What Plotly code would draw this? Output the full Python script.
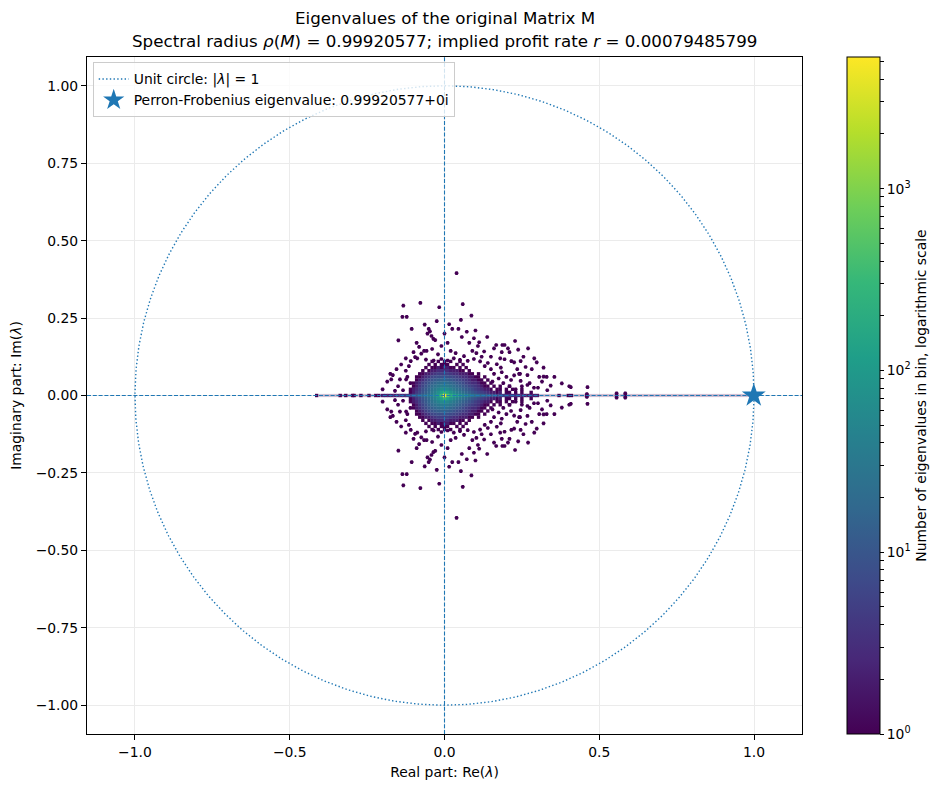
import numpy as np
import plotly.graph_objects as go

# ---------------- data ----------------
spectral_radius = 0.99920577
profit_rate = 0.00079485799

# dense core: hexbin-style cell counts, upper half (y >= 0); the lower half is the
# complex-conjugate mirror image. Columns are bin centres core_x, rows are core_y.
core_x = [-0.12, -0.11, -0.10, -0.09, -0.08, -0.07, -0.06, -0.05, -0.04, -0.03, -0.02, -0.01,
          0.00, 0.01, 0.02, 0.03, 0.04, 0.05, 0.06, 0.07, 0.08, 0.09, 0.10, 0.11, 0.12,
          0.13, 0.14, 0.15, 0.16, 0.17, 0.18, 0.19, 0.20, 0.21, 0.22, 0.23, 0.24, 0.25,
          0.26, 0.27, 0.28, 0.29, 0.30]
core_y = [0.00, 0.01, 0.02, 0.03, 0.04, 0.05, 0.06, 0.07, 0.08, 0.09, 0.10, 0.11]
core_counts = [
    [5, 6, 8, 10, 13, 17, 22, 30, 40, 60, 110, 350, 5300,
     500, 200, 120, 85, 65, 50, 40, 32, 26, 21, 17, 14, 12, 10, 8, 7, 6, 5, 5, 4, 4, 3, 3, 3, 3, 2, 2, 2, 2, 2],
    [0, 1, 2, 4, 6, 9, 13, 18, 28, 42, 70, 120, 250,
     130, 75, 50, 36, 27, 21, 16, 13, 10, 8, 6, 5, 4, 3, 2, 2, 1, 2, 0, 1, 1, 0, 1, 0, 1, 0, 0, 1, 0, 0],
    [0, 1, 2, 3, 5, 8, 11, 16, 23, 32, 45, 60, 75,
     55, 40, 30, 23, 18, 14, 11, 9, 7, 5, 4, 3, 2, 2, 1, 0, 1, 1, 0, 1, 0, 1, 0, 0, 1, 0, 0, 0, 0, 0],
    [0, 0, 1, 2, 4, 6, 9, 13, 18, 23, 29, 35, 38,
     33, 26, 21, 16, 13, 10, 8, 6, 5, 4, 3, 2, 1, 1, 0, 1, 0, 1, 0, 0, 1, 0, 0, 0, 0, 0, 0, 0, 0, 0],
    [0, 0, 1, 2, 3, 5, 7, 10, 13, 16, 20, 22, 23,
     21, 17, 14, 11, 9, 7, 5, 4, 3, 3, 2, 1, 1, 0, 1, 0, 0, 0, 0, 0, 0, 0, 0, 0, 0, 0, 0, 0, 0, 0],
    [0, 0, 0, 1, 2, 3, 5, 7, 9, 11, 13, 14, 15,
     13, 11, 9, 7, 6, 5, 4, 3, 2, 2, 1, 1, 0, 1, 0, 0, 0, 0, 0, 0, 0, 0, 0, 0, 0, 0, 0, 0, 0, 0],
    [0, 0, 0, 1, 1, 2, 3, 4, 6, 7, 8, 8, 9,
     8, 7, 6, 5, 4, 3, 3, 2, 2, 1, 1, 0, 1, 0, 0, 0, 0, 0, 0, 0, 0, 0, 0, 0, 0, 0, 0, 0, 0, 0],
    [0, 0, 0, 0, 1, 1, 2, 2, 3, 4, 5, 5, 5,
     5, 4, 3, 3, 2, 2, 2, 1, 1, 0, 1, 0, 0, 0, 0, 0, 0, 0, 0, 0, 0, 0, 0, 0, 0, 0, 0, 0, 0, 0],
    [0, 0, 0, 0, 0, 1, 0, 1, 2, 2, 3, 3, 3,
     3, 2, 2, 2, 1, 1, 0, 1, 0, 0, 0, 0, 0, 0, 0, 0, 0, 0, 0, 0, 0, 0, 0, 0, 0, 0, 0, 0, 0, 0],
    [0, 0, 0, 0, 0, 0, 1, 0, 1, 1, 2, 1, 2,
     2, 1, 1, 0, 1, 0, 1, 0, 0, 0, 0, 0, 0, 0, 0, 0, 0, 0, 0, 0, 0, 0, 0, 0, 0, 0, 0, 0, 0, 0],
    [0, 0, 0, 0, 0, 0, 0, 1, 0, 1, 0, 1, 1,
     1, 0, 0, 1, 0, 1, 0, 0, 0, 0, 0, 0, 0, 0, 0, 0, 0, 0, 0, 0, 0, 0, 0, 0, 0, 0, 0, 0, 0, 0],
    [0, 0, 0, 0, 0, 0, 0, 0, 1, 0, 1, 0, 1,
     0, 1, 0, 0, 1, 0, 0, 0, 0, 0, 0, 0, 0, 0, 0, 0, 0, 0, 0, 0, 0, 0, 0, 0, 0, 0, 0, 0, 0, 0],
]

# isolated single-eigenvalue bins in the upper half plane (mirrored below)
outlier_x = [0.039, -0.133, -0.078, -0.017, 0.059, -0.136, -0.122, 0.087, 0.053,
             -0.106, -0.051, -0.047, 0.025, 0.045, 0.072, -0.064, -0.149,
             -0.055, -0.042, -0.036, -0.030, 0.056, 0.095, 0.112, 0.138,
             -0.082, -0.066, -0.058, -0.021, 0.020, 0.036, 0.063, 0.090, 0.103,
             0.167, 0.187, 0.194, 0.205, 0.228, 0.238, 0.270, 0.160, 0.128,
             -0.095, -0.109, -0.167, -0.172, -0.144, -0.124, -0.134,
             0.180, 0.194, 0.169, 0.182, 0.216, 0.225, 0.246, 0.298,
             0.244, 0.268, 0.306, 0.246, 0.268, 0.289, 0.302,
             0.343, 0.332, 0.379, 0.403, 0.408, 0.462,
             -0.088, -0.060, -0.035, -0.010, 0.010, 0.030, 0.050, 0.075, 0.095, 0.115, 0.140,
             -0.115, -0.125, -0.120, -0.110, 0.150, 0.160, 0.175, 0.155, 0.190, 0.210, 0.230,
             0.200, 0.185, 0.225, -0.150, -0.160, -0.175, 0.130, 0.120, -0.075, -0.040,
             0.241, 0.320, 0.556, 0.584, 0.460,
             0.262, 0.282, 0.315, 0.330, 0.290, 0.255, 0.210, 0.185, 0.150, 0.108,
             0.080, 0.010, -0.010, -0.100, -0.125, -0.140, -0.155, -0.185, -0.200, 0.320,
             0.355, 0.275, 0.250, 0.215, 0.235, -0.090, 0.000, 0.015, -0.025, 0.100]
outlier_y = [0.395, 0.290, 0.299, 0.285, 0.295, 0.254, 0.254, 0.258, 0.244,
             0.215, 0.215, 0.207, 0.215, 0.215, 0.206, 0.229, 0.178,
             0.200, 0.192, 0.183, 0.179, 0.189, 0.185, 0.172, 0.189,
             0.157, 0.144, 0.144, 0.133, 0.144, 0.137, 0.127, 0.144, 0.137,
             0.163, 0.163, 0.163, 0.152, 0.176, 0.148, 0.152, 0.152, 0.142,
             0.124, 0.111, 0.066, 0.052, 0.052, 0.052, 0.017,
             0.120, 0.117, 0.101, 0.090, 0.111, 0.107, 0.111, 0.107,
             0.070, 0.066, 0.060, 0.047, 0.034, 0.025, 0.025,
             0.032, 0.017, 0.039, 0.030, 0.027, 0.027,
             0.120, 0.116, 0.113, 0.118, 0.113, 0.120, 0.115, 0.112, 0.118, 0.110, 0.105,
             0.095, 0.080, 0.060, 0.040, 0.085, 0.070, 0.055, 0.045, 0.040, 0.030, 0.020,
             0.060, 0.075, 0.065, 0.030, 0.015, 0.070, 0.095, 0.125, 0.135, 0.150,
             0.070, 0.061, 0.007, 0.007, 0.005,
             0.092, 0.085, 0.045, 0.060, 0.120, 0.125, 0.140, 0.140, 0.125, 0.160,
             0.170, 0.170, 0.160, 0.140, 0.120, 0.100, 0.085, 0.045, 0.020, 0.090,
             0.060, 0.040, 0.030, 0.050, 0.085, 0.170, 0.200, 0.230, 0.240, 0.210]

# real eigenvalues lying on the real axis outside the core
real_axis_x = [-0.413, -0.337, -0.319, -0.297, -0.292, -0.270, -0.244,
               -0.222, -0.212, -0.200, -0.190, -0.180, -0.170, -0.160, -0.150, -0.140, -0.130,
               0.37, 0.40, 0.41, 0.46, 0.556, 0.584]
real_axis_counts = [1, 1, 1, 1, 1, 1, 1, 1, 1, 2, 2, 2, 2, 2, 3, 3, 3, 1, 1, 1, 1, 1, 1]

# thin row of real eigenvalues running along the real axis (faint band)
band_x = [-0.40, -0.39, -0.38, -0.37, -0.36, -0.35, -0.34, -0.33, -0.32, -0.31, -0.30,
          -0.29, -0.28, -0.27, -0.26, -0.25, -0.24, -0.23,
          0.31, 0.32, 0.33, 0.34, 0.35, 0.36, 0.38, 0.39, 0.42, 0.43, 0.44, 0.45, 0.47,
          0.48, 0.49, 0.50, 0.51, 0.52, 0.53, 0.54, 0.55, 0.57, 0.58, 0.59, 0.60, 0.61,
          0.62, 0.63, 0.64, 0.65, 0.66, 0.67, 0.68, 0.69, 0.70, 0.71, 0.72, 0.73, 0.74,
          0.75, 0.76, 0.77, 0.78, 0.79, 0.80, 0.81, 0.82, 0.83, 0.84, 0.85, 0.86, 0.87,
          0.88, 0.89, 0.90, 0.91, 0.92, 0.93, 0.94, 0.95, 0.96, 0.97, 0.98, 0.99]

# colour-scale limits (counts)
cbar_count_min = 1
cbar_count_max = 5300
cbar_decades = [1, 10, 100, 1000]

# ---------------- assemble cells ----------------
for row in core_counts:
    assert len(row) == len(core_x)
assert len(core_counts) == len(core_y)
assert len(outlier_x) == len(outlier_y)
assert len(real_axis_x) == len(real_axis_counts)

cx, cy, cc = [], [], []
for yv, row in zip(core_y, core_counts):
    for xv, c in zip(core_x, row):
        if c > 0:
            cx.append(xv); cy.append(yv); cc.append(c)
            if yv != 0:
                cx.append(xv); cy.append(-yv); cc.append(c)
ox, oy = [], []
for xv, yv in zip(outlier_x, outlier_y):
    ox += [xv, xv]; oy += [yv, -yv]
for xv, c in zip(real_axis_x, real_axis_counts):
    cx.append(xv); cy.append(0.0); cc.append(c)

order = np.argsort(cc, kind="stable")
cx = np.array(cx)[order]; cy = np.array(cy)[order]; cc = np.array(cc)[order]

CMIN = float(np.log10(cbar_count_min))
CMAX = float(np.log10(cbar_count_max))

XR = 1.155
YR = 1.093
FONT = "DejaVu Sans"
FS = 13.9
C0 = "#1f77b4"

# page body adds an 8 px offset; figure is sized/margined to compensate
W, H = 936, 782
ML, MT, MR, MB = 79, 49, 142, 56
PW = W - ML - MR

tick_counts = []
for d in cbar_decades:
    for k in range(1, 10):
        if d * k <= cbar_count_max:
            tick_counts.append(d * k)
tickvals = [float(np.log10(v)) for v in tick_counts]
ticktext = [("10<sup>%d</sup>" % int(round(np.log10(v)))) if v in cbar_decades else ""
            for v in tick_counts]

fig = go.Figure()

fig.add_trace(go.Scatter(
    x=band_x, y=[0.0] * len(band_x), mode="markers", showlegend=False, hoverinfo="skip",
    marker=dict(symbol="square", size=3.2, color="#440154", opacity=0.25, line=dict(width=0)),
))

# single-count outlier bins (same colour scale, count = 1)
fig.add_trace(go.Scatter(
    x=ox, y=oy, mode="markers", showlegend=False, hoverinfo="skip",
    marker=dict(symbol="hexagon2", size=4.2, line=dict(width=0),
                color=[CMIN] * len(ox), colorscale="Viridis",
                cmin=CMIN, cmax=CMAX, showscale=False),
))

fig.add_trace(go.Scatter(
    x=cx, y=cy, mode="markers", showlegend=False,
    marker=dict(
        symbol="square", size=3.4, line=dict(width=0),
        color=np.log10(cc), colorscale="Viridis", cmin=CMIN, cmax=CMAX,
        showscale=True,
        colorbar=dict(
            x=(839 - ML) / PW, xanchor="left", xpad=0, y=0.5, yanchor="middle",
            len=1.0, lenmode="fraction", ypad=0,
            thickness=33, thicknessmode="pixels", outlinewidth=1, outlinecolor="black",
            ticks="outside", ticklen=4, tickwidth=1, tickcolor="black",
            tickvals=tickvals, ticktext=ticktext, tickfont=dict(size=FS, family=FONT),
            title=dict(text="Number of eigenvalues in bin, logarithmic scale", side="right",
                       font=dict(size=FS, family=FONT)),
        ),
    ),
    customdata=cc, hovertemplate="count %{customdata}<extra></extra>",
))

# reference axes lines
fig.add_trace(go.Scatter(x=[-XR, XR], y=[0, 0], mode="lines", showlegend=False, hoverinfo="skip",
                         line=dict(color=C0, width=1.1, dash="4px,1.8px")))
fig.add_trace(go.Scatter(x=[0, 0], y=[-YR, YR], mode="lines", showlegend=False, hoverinfo="skip",
                         line=dict(color=C0, width=1.1, dash="4px,1.8px")))

theta = np.linspace(0, 2 * np.pi, 721)
fig.add_trace(go.Scatter(x=np.cos(theta), y=np.sin(theta), mode="lines",
                         name="Unit circle: |<i>λ</i>| = 1",
                         line=dict(color=C0, width=1.4, dash="1.4px,2.3px")))

fig.add_trace(go.Scatter(x=[spectral_radius], y=[0.0], mode="markers",
                         name="Perron-Frobenius eigenvalue: %.8f+0i" % spectral_radius,
                         marker=dict(symbol="star", size=18, color=C0, line=dict(width=0))))

axis_common = dict(showline=True, mirror=True, linecolor="black", linewidth=1,
                   ticks="outside", ticklen=5, tickwidth=1, tickcolor="black",
                   showgrid=True, gridcolor="#ebebeb", gridwidth=1, zeroline=False,
                   automargin=False,
                   tickfont=dict(size=FS, family=FONT, color="black"))

PH = H - MT - MB
fig.update_layout(
    width=W, height=H,
    margin=dict(l=ML, r=MR, t=MT, b=MB, autoexpand=False),
    plot_bgcolor="white", paper_bgcolor="white",
    font=dict(family=FONT, size=FS, color="black"),
    xaxis=dict(range=[-XR, XR], tickvals=[-1.0, -0.5, 0.0, 0.5, 1.0], tickformat=".1f",
               title=dict(text="Real part: Re(<i>λ</i>)", standoff=8,
                          font=dict(size=FS, family=FONT, color="black")), **axis_common),
    yaxis=dict(range=[-YR, YR], tickvals=[-1.0, -0.75, -0.5, -0.25, 0.0, 0.25, 0.5, 0.75, 1.0],
               tickformat=".2f",
               title=dict(text="Imaginary part: Im(<i>λ</i>)", standoff=11,
                          font=dict(size=FS, family=FONT, color="black")),
               **axis_common),
    legend=dict(x=0.008, y=0.992, xanchor="left", yanchor="top",
                bgcolor="rgba(255,255,255,0.8)", bordercolor="#cccccc", borderwidth=1,
                font=dict(size=FS, family=FONT)),
    annotations=[
        dict(text="Eigenvalues of the original Matrix M", x=0.5, xref="paper",
             y=1 + 39 / PH, yref="paper", xanchor="center", yanchor="middle",
             showarrow=False, font=dict(size=16.7, family=FONT, color="black")),
        dict(text="Spectral radius <i>ρ</i>(<i>M</i>) = %.8f; implied profit rate "
                  "<i>r</i> = %.11f" % (spectral_radius, profit_rate),
             x=0.5, xref="paper", y=1 + 16 / PH, yref="paper",
             xanchor="center", yanchor="middle",
             showarrow=False, font=dict(size=16.7, family=FONT, color="black")),
    ],
)

fig.write_html("out.html")
